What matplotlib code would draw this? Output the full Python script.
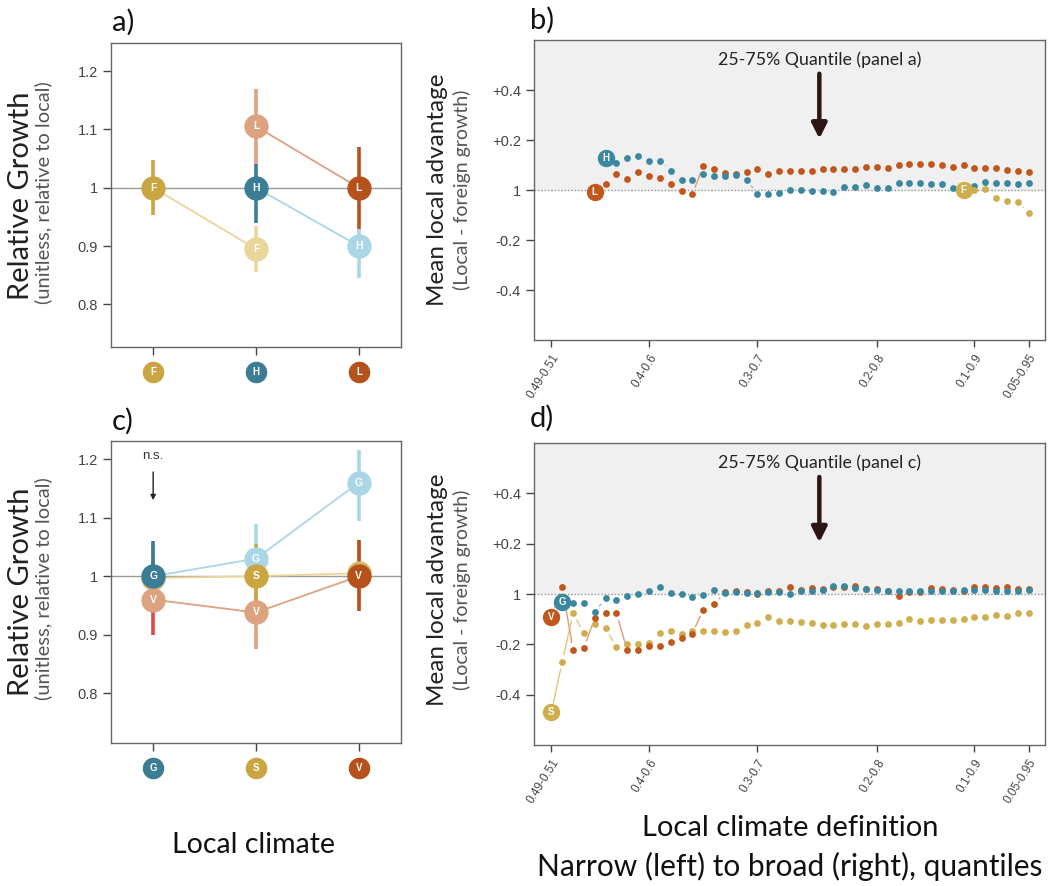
import matplotlib
matplotlib.use("Agg")
import matplotlib.pyplot as plt
import numpy as np

# ---------------- data ----------------
# Panel a (local climates F, H, L); first point of each series = local
cats_a = ['F', 'H', 'L']
a_F_x = [1, 2]; a_F_y = [1.0, 0.895]; a_F_lo = [0.953, 0.855]; a_F_hi = [1.047, 0.935]
a_H_x = [2, 3]; a_H_y = [1.0, 0.90]; a_H_lo = [0.94, 0.845]; a_H_hi = [1.04, 0.93]
a_L_x = [3, 2]; a_L_y = [1.0, 1.105]; a_L_lo = [0.93, 1.04]; a_L_hi = [1.07, 1.17]

# Panel c (local climates G, S, V)
cats_c = ['G', 'S', 'V']
c_G_x = [1, 2, 3]; c_G_y = [1.0, 1.03, 1.16]; c_G_lo = [0.94, 0.97, 1.095]; c_G_hi = [1.06, 1.09, 1.215]
c_S_x = [2, 1, 3]; c_S_y = [1.0, 0.997, 1.005]; c_S_lo = [0.945, 0.95, 0.95]; c_S_hi = [1.055, 1.053, 1.06]
c_V_x = [3, 1, 2]; c_V_y = [1.0, 0.96, 0.938]; c_V_lo = [0.94, 0.90, 0.876]; c_V_hi = [1.062, 1.025, 1.0]

# Panels b / d: quantile definitions (index 0 = 0.49-0.51 ... 44 = 0.05-0.95)
q_tick_pos = [0, 9, 19, 30, 39, 44]
q_tick_lab = ['0.49-0.51', '0.4-0.6', '0.3-0.7', '0.2-0.8', '0.1-0.9', '0.05-0.95']

b_H_start = 5
b_H = [0.129, 0.109, 0.129, 0.137, 0.116, 0.116, 0.076, 0.039, 0.039, 0.063,
       0.056, 0.056, 0.060, 0.039, -0.015, -0.015, -0.011, 0.0, 0.0, -0.004,
       -0.004, -0.008, 0.013, 0.013, 0.019, 0.008, 0.008, 0.027, 0.027, 0.029,
       0.023, 0.023, 0.009, 0.005, 0.016, 0.032, 0.027, 0.027, 0.024, 0.027]
b_L_start = 4
b_L = [-0.007, 0.025, 0.063, 0.043, 0.073, 0.055, 0.047, 0.023, -0.004, -0.017,
       0.096, 0.085, 0.067, 0.065, 0.072, 0.083, 0.065, 0.076, 0.076, 0.076,
       0.076, 0.085, 0.085, 0.083, 0.085, 0.092, 0.092, 0.089, 0.099, 0.105,
       0.105, 0.103, 0.099, 0.092, 0.099, 0.089, 0.087, 0.087, 0.080, 0.076, 0.072]
b_F_start = 38
b_F = [0.0, 0.0, 0.003, -0.033, -0.044, -0.049, -0.092]

d_S_start = 0
d_S = [-0.47, -0.27, -0.077, -0.155, -0.118, -0.137, -0.212, -0.20, -0.20, -0.194,
       -0.156, -0.147, -0.160, -0.148, -0.148, -0.148, -0.152, -0.148, -0.123, -0.116,
       -0.093, -0.106, -0.106, -0.110, -0.114, -0.123, -0.123, -0.119, -0.120, -0.129,
       -0.119, -0.120, -0.116, -0.101, -0.106, -0.103, -0.103, -0.103, -0.101, -0.090,
       -0.093, -0.084, -0.088, -0.077, -0.075]
d_V_start = 0
d_V = [-0.09, 0.028, -0.222, -0.215, -0.095, -0.077, -0.077, -0.224, -0.224, -0.208,
       -0.205, -0.19, -0.175, -0.157, -0.062, -0.041, 0.006, 0.010, 0.006, 0.0,
       0.010, 0.013, 0.026, 0.015, 0.023, 0.019, 0.026, 0.026, 0.032, 0.019,
       0.019, 0.013, -0.006, 0.006, 0.006, 0.023, 0.019, 0.015, 0.013, 0.026,
       0.026, 0.023, 0.026, 0.019, 0.019]
d_G_start = 1
d_G = [-0.031, -0.036, -0.036, -0.071, -0.017, -0.023, -0.009, 0.0, 0.013, 0.026,
       0.004, 0.0, -0.010, -0.004, 0.015, 0.005, 0.008, 0.004, 0.004, 0.006,
       0.008, 0.0, 0.010, 0.012, 0.015, 0.030, 0.032, 0.025, 0.020, 0.015,
       0.013, 0.013, 0.010, 0.012, 0.012, 0.010, 0.012, 0.015, 0.015, 0.016,
       0.013, 0.012, 0.010, 0.015]

# ---------------- style ----------------
YEL_D, YEL_L, YEL_M = '#C9A641', '#EAD59A', '#D6BB62'
BLU_D, BLU_L = '#3B7D95', '#AAD6E6'
ORA_D, ORA_L = '#B5521C', '#DDA27F'
RED_E = '#DD4C4C'
DOT = {'Y': '#CFAE4E', 'B': '#3A87A0', 'O': '#C2571D'}
DOT_L = {'Y': '#E2C67E', 'B': '#8FC0D2', 'O': '#DE9E7A'}

LAB_FONT = ['Lato', 'DejaVu Sans']
TICK_FONT = ['Liberation Sans', 'DejaVu Sans']
SPINE = '#666666'

W, H = 1053, 886
fig = plt.figure(figsize=(W / 100, H / 100), dpi=100)


def rect(l, t, r, b):
    return [l / W, 1 - b / H, (r - l) / W, (b - t) / H]


def style_box(ax):
    for s in ax.spines.values():
        s.set_color(SPINE)
        s.set_linewidth(1.0)
    ax.tick_params(colors='#444444', width=1.0, length=6, labelsize=10.5)
    for lab in ax.get_yticklabels():
        lab.set_family(TICK_FONT)


def badge(ax, x, y, letter, color, ms, fs, transform=None, clip=True, z=6):
    kw = {}
    if transform is not None:
        kw['transform'] = transform
    ax.plot([x], [y], 'o', ms=ms, mfc=color, mec=color, zorder=z, clip_on=clip, **kw)
    if letter:
        ax.text(x, y, letter, color='white', fontsize=fs, ha='center', va='center',
                fontweight='bold', family=TICK_FONT, zorder=z + 0.5, clip_on=clip, **kw)


def gapped_line(ax, xs, ys, color, gap_first=9.0, gap=7.0, lw=1.0):
    """R type='b' style: segments that stop short of the points."""
    pts = ax.transData.transform(np.column_stack([xs, ys]))
    inv = ax.transData.inverted()
    for k in range(len(pts) - 1):
        p, q = pts[k], pts[k + 1]
        g1 = gap_first if k == 0 else gap
        d = q - p
        L = np.hypot(*d)
        if L <= g1 + gap + 0.5:
            continue
        u = d / L
        a = inv.transform(p + u * g1)
        b = inv.transform(q - u * gap)
        ax.plot([a[0], b[0]], [a[1], b[1]], color=color, lw=lw, zorder=2,
                solid_capstyle='butt')


def growth_panel(ax, cats, series, cat_colors, ylim):
    ax.set_xlim(0.59, 3.41)
    ax.set_ylim(*ylim)
    ax.axhline(1.0, color='#9A9A9A', lw=1.0, zorder=1)
    for s in series:
        xs, ys = np.array(s['x']), np.array(s['y'])
        order = np.argsort(xs)
        ax.plot(xs[order], ys[order], color=s['light'], lw=1.3, zorder=2)
    for s in series:
        for i in range(len(s['x'])):
            ax.plot([s['x'][i], s['x'][i]], [s['lo'][i], s['hi'][i]], color=s['ecol'][i],
                    lw=2.6, solid_capstyle='butt', zorder=4 if i == 0 else 3)
    # foreign badges first, local badges on top
    for s in series:
        for i in range(1, len(s['x'])):
            badge(ax, s['x'][i], s['y'][i], s['name'] if s['show'][i] else '',
                  s['bcol'][i], 16.5, 7.5, z=6)
    for s in series:
        badge(ax, s['x'][0], s['y'][0], s['name'], s['dark'], 16.5, 7.5, z=8)
    ax.set_xticks([1, 2, 3])
    ax.set_xticklabels([])
    ax.set_yticks([0.8, 0.9, 1.0, 1.1, 1.2])
    ax.set_yticklabels(['0.8', '0.9', '1', '1.1', '1.2'])
    style_box(ax)
    tr = ax.get_xaxis_transform()
    for i, c in enumerate(cats):
        badge(ax, i + 1, -0.083, c, cat_colors[i], 14.5, 7, transform=tr, clip=False)


def quant_panel(ax, series, arrow_text):
    ax.set_xlim(-1.6, 45.5)
    ax.set_ylim(-0.6, 0.6)
    ax.axhspan(0, 0.6, color='#F0F0F0', zorder=0, lw=0)
    ax.axhline(0, color='#9A9A9A', lw=1.0, ls=(0, (1.2, 1.2)), zorder=1)
    for (start, vals, key, letter) in series:
        xs = np.arange(start, start + len(vals))
        gapped_line(ax, xs, vals, DOT_L[key])
        ax.plot(xs[1:], vals[1:], 'o', ms=4.9, color=DOT[key], mec='none', zorder=3)
    for (start, vals, key, letter) in series:
        badge(ax, start, vals[0], letter, DOT[key], 11.5, 7)
    ax.set_xticks(q_tick_pos)
    ax.set_xticklabels(q_tick_lab, rotation=58, ha='right', va='top',
                       rotation_mode='anchor', fontsize=8.5, color='#555555',
                       family=TICK_FONT)
    ax.set_yticks([-0.4, -0.2, 0, 0.2, 0.4])
    ax.set_yticklabels(['-0.4', '-0.2', '1', '+0.2', '+0.4'])
    style_box(ax)
    ax.tick_params(axis='x', labelsize=8.5, length=5)
    ax.text(24.7, 0.52, arrow_text, ha='center', va='center', fontsize=12.8,
            family=LAB_FONT, color='#222222', zorder=8)
    ax.annotate('', xy=(24.7, 0.205), xytext=(24.7, 0.465),
                arrowprops=dict(arrowstyle='-|>,head_width=0.45,head_length=0.9',
                                color='#2B1515', lw=3.2, shrinkA=0, shrinkB=0), zorder=8)


# ---------------- panel a ----------------
ax_a = fig.add_axes(rect(111, 43, 401, 347))
series_a = [
    dict(name='F', x=a_F_x, y=a_F_y, lo=a_F_lo, hi=a_F_hi, dark=YEL_D, light=YEL_L,
         ecol=[YEL_D, YEL_L], bcol=[YEL_D, YEL_L], show=[True, True]),
    dict(name='H', x=a_H_x, y=a_H_y, lo=a_H_lo, hi=a_H_hi, dark=BLU_D, light=BLU_L,
         ecol=[BLU_D, BLU_L], bcol=[BLU_D, BLU_L], show=[True, True]),
    dict(name='L', x=a_L_x, y=a_L_y, lo=a_L_lo, hi=a_L_hi, dark=ORA_D, light=ORA_L,
         ecol=[ORA_D, ORA_L], bcol=[ORA_D, ORA_L], show=[True, True]),
]
growth_panel(ax_a, cats_a, series_a, [YEL_D, BLU_D, ORA_D], (0.727, 1.248))

# ---------------- panel c ----------------
ax_c = fig.add_axes(rect(111, 441, 401, 743))
series_c = [
    dict(name='G', x=c_G_x, y=c_G_y, lo=c_G_lo, hi=c_G_hi, dark=BLU_D, light=BLU_L,
         ecol=[BLU_D, BLU_L, BLU_L], bcol=[BLU_D, BLU_L, BLU_L], show=[True, True, True]),
    dict(name='S', x=c_S_x, y=c_S_y, lo=c_S_lo, hi=c_S_hi, dark=YEL_D, light=YEL_L,
         ecol=[YEL_D, YEL_M, YEL_L], bcol=[YEL_D, YEL_M, YEL_M], show=[True, False, False]),
    dict(name='V', x=c_V_x, y=c_V_y, lo=c_V_lo, hi=c_V_hi, dark=ORA_D, light=ORA_L,
         ecol=[ORA_D, RED_E, ORA_L], bcol=[ORA_D, ORA_L, ORA_L], show=[True, True, True]),
]
growth_panel(ax_c, cats_c, series_c, [BLU_D, YEL_D, ORA_D], (0.715, 1.231))
ax_c.text(1, 1.205, 'n.s.', ha='center', va='center', fontsize=9.5, color='#333333', family=TICK_FONT)
ax_c.annotate('', xy=(1, 1.13), xytext=(1, 1.178),
              arrowprops=dict(arrowstyle='-|>,head_width=0.15,head_length=0.3',
                              color='#222222', lw=1.0, shrinkA=0, shrinkB=0))

# ---------------- panel b ----------------
ax_b = fig.add_axes(rect(534, 40, 1045, 340))
quant_panel(ax_b, [(b_L_start, b_L, 'O', 'L'), (b_H_start, b_H, 'B', 'H'),
                   (b_F_start, b_F, 'Y', 'F')], '25-75% Quantile (panel a)')

# ---------------- panel d ----------------
ax_d = fig.add_axes(rect(534, 443, 1045, 745))
quant_panel(ax_d, [(d_S_start, d_S, 'Y', 'S'), (d_V_start, d_V, 'O', 'V'),
                   (d_G_start, d_G, 'B', 'G')], '25-75% Quantile (panel c)')

# ---------------- texts ----------------
def ftxt(x, y, s, **kw):
    fig.text(x / W, 1 - y / H, s, **kw)

for yc in (196, 592):
    ftxt(21, yc, 'Relative Growth', rotation=90, ha='center', va='center', fontsize=21,
         family=LAB_FONT, color='#222222')
    ftxt(43, yc - 3, '(unitless, relative to local)', rotation=90, ha='center', va='center',
         fontsize=14.5, family=LAB_FONT, color='#555555')
for yc in (190, 590):
    ftxt(437, yc, 'Mean local advantage', rotation=90, ha='center', va='center', fontsize=17.5,
         family=LAB_FONT, color='#222222')
    ftxt(462, yc, '(Local - foreign growth)', rotation=90, ha='center', va='center',
         fontsize=14, family=LAB_FONT, color='#555555')

for (x, y, s) in [(112, 22, 'a)'), (530, 20, 'b)'), (112, 421, 'c)'), (530, 418, 'd)')]:
    ftxt(x, y, s, ha='left', va='center', fontsize=21, family=LAB_FONT, color='#111111')

ftxt(254, 845, 'Local climate', ha='center', va='center', fontsize=20.5, family=LAB_FONT, color='#111111')
ftxt(790, 828, 'Local climate definition', ha='center', va='center', fontsize=21, family=LAB_FONT, color='#111111')
ftxt(790, 866, 'Narrow (left) to broad (right), quantiles', ha='center', va='center', fontsize=21.5,
     family=LAB_FONT, color='#111111')

fig.savefig('out.png', dpi=100)
